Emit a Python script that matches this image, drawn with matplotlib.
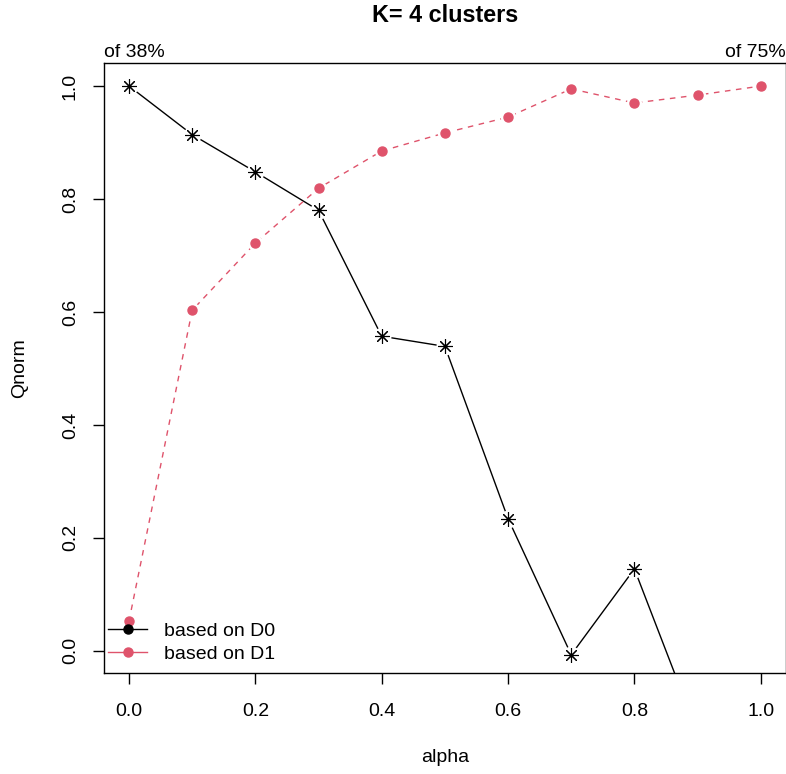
import matplotlib
matplotlib.use('Agg')
from matplotlib import pyplot as plt
from matplotlib.lines import Line2D

plt.rcParams['font.family'] = ['Liberation Sans', 'DejaVu Sans']

alpha = [0.0, 0.1, 0.2, 0.3, 0.4, 0.5, 0.6, 0.7, 0.8, 0.9, 1.0]
q_d0 = [1.000, 0.914, 0.848, 0.780, 0.557, 0.539, 0.234, -0.007, 0.145, -0.145, -0.20]
q_d1 = [0.053, 0.603, 0.722, 0.819, 0.885, 0.917, 0.945, 0.995, 0.970, 0.984, 1.000]
title = 'K= 4 clusters'
left_note = 'of 38%'
right_note = 'of 75%'
red = '#DF536B'

fig = plt.figure(figsize=(7.86, 7.74), dpi=100)
ax = fig.add_axes([0.132, 0.130, 0.868, 0.788])

# lines, then white discs to leave gaps like R's type="b", then markers
ax.plot(alpha, q_d0, color='black', lw=1.0, zorder=2)
ax.plot(alpha, q_d0, ls='none', marker='o', ms=13, mfc='white', mec='none', zorder=3)
ax.plot(alpha, q_d0, ls='none', marker=(8, 2, 0), ms=10.5, mec='black', mew=0.8, zorder=4)

ax.plot(alpha, q_d1, color=red, lw=1.0, dashes=(4, 4), zorder=5)
ax.plot(alpha, q_d1, ls='none', marker='o', ms=11, mfc='white', mec='none', zorder=6)
ax.plot(alpha, q_d1, ls='none', marker='o', ms=6.5, mfc=red, mec=red, zorder=7)

ax.set_xlim(-0.04, 1.04)
ax.set_ylim(-0.04, 1.04)
ax.set_xticks([0.0, 0.2, 0.4, 0.6, 0.8, 1.0])
ax.set_yticks([0.0, 0.2, 0.4, 0.6, 0.8, 1.0])
ax.set_xticklabels(['0.0', '0.2', '0.4', '0.6', '0.8', '1.0'])
ax.set_yticklabels(['0.0', '0.2', '0.4', '0.6', '0.8', '1.0'], rotation=90, va='center')
ax.tick_params(direction='out', length=8, width=1, labelsize=14, color='black')
ax.tick_params(axis='x', pad=13)
ax.tick_params(axis='y', pad=10)
for s in ax.spines.values():
    s.set_linewidth(1.0)

handles = [Line2D([], [], color='black', lw=1.0, marker='o', ms=6.5),
           Line2D([], [], color=red, lw=1.0, marker='o', ms=6.5)]
leg = ax.legend(handles, ['based on D0', 'based on D1'], loc='lower left', frameon=False,
                fontsize=14, handlelength=2.0, handletextpad=0.85, labelspacing=0.3,
                bbox_to_anchor=(-0.005, 0.004), borderaxespad=0.2, borderpad=0.2)
leg.set_zorder(10)

ax.annotate(left_note, xy=(0, 1), xycoords='axes fraction', xytext=(0, 5),
            textcoords='offset points', ha='left', va='baseline', fontsize=14)
ax.annotate(right_note, xy=(1, 1), xycoords='axes fraction', xytext=(0, 5),
            textcoords='offset points', ha='right', va='baseline', fontsize=14)

fig.text(445 / 786, 1 - 22 / 774, title, ha='center', va='baseline',
         fontsize=16.8, fontweight='bold')
fig.text(445 / 786, 1 - 758 / 774, 'alpha', ha='center', va='center', fontsize=14)
fig.text(20 / 786, 1 - 368 / 774, 'Qnorm', ha='center', va='center', rotation=90,
         fontsize=14)

fig.savefig('out.png', dpi=100)
